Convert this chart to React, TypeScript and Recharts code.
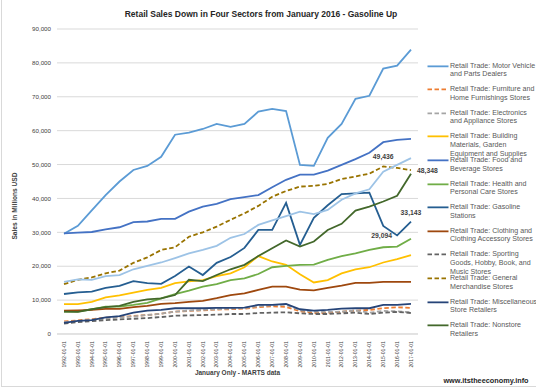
import React from 'react';
import { LineChart, Line, XAxis, YAxis, CartesianGrid, Legend } from 'recharts';

const years = [
  '1992-01-01', '1993-01-01', '1994-01-01', '1995-01-01', '1996-01-01', '1997-01-01', '1998-01-01',
  '1999-01-01', '2000-01-01', '2001-01-01', '2002-01-01', '2003-01-01', '2004-01-01', '2005-01-01',
  '2006-01-01', '2007-01-01', '2008-01-01', '2009-01-01', '2010-01-01', '2011-01-01', '2012-01-01',
  '2013-01-01', '2014-01-01', '2015-01-01', '2016-01-01', '2017-01-01',
];

const motorVehicle = [29600, 31900, 36500, 41000, 45000, 48400, 49600, 52300, 58800, 59400, 60500, 62000, 61100, 62000, 65600, 66400, 65800, 49900, 49600, 57900, 62000, 69400, 70300, 78300, 79200, 83900];
const furniture = [3700, 4000, 4400, 4800, 5000, 5300, 5600, 6000, 6600, 6800, 7000, 7200, 7300, 7500, 7900, 8200, 8000, 6700, 6200, 6200, 6600, 6900, 7100, 7600, 7900, 7700];
const electronics = [3500, 3800, 4200, 4600, 4900, 5200, 5600, 6000, 6600, 6900, 7100, 7300, 7500, 7700, 8200, 8500, 8600, 7000, 6600, 6500, 6600, 6900, 6300, 6800, 6700, 6400];
const building = [8800, 8800, 9500, 10800, 11400, 12200, 13000, 13600, 15000, 15500, 15900, 17100, 17900, 19700, 23000, 21400, 20400, 17600, 15200, 15900, 17900, 19100, 19700, 21100, 22100, 23300];
const foodBeverage = [29700, 29900, 30100, 30900, 31500, 33000, 33200, 34000, 34000, 36100, 37600, 38400, 39800, 40400, 41000, 43300, 45500, 47000, 47000, 48200, 49900, 51600, 53500, 56600, 57300, 57600];
const health = [6600, 6600, 7300, 8100, 8100, 8600, 9200, 10500, 11800, 12800, 14000, 14700, 15900, 16400, 17700, 19700, 20100, 20400, 20500, 21900, 23000, 23800, 24800, 25600, 25800, 28100];
const gasoline = [11800, 12300, 12500, 13600, 14200, 15600, 15000, 14800, 17100, 19900, 17400, 21000, 22700, 25400, 30700, 30700, 38700, 26300, 34300, 38000, 41300, 41500, 41700, 31900, 29094, 33143];
const clothing = [6900, 7000, 7100, 7400, 7400, 7900, 8300, 8900, 9100, 9500, 9800, 10600, 11500, 12000, 13000, 14000, 14000, 13100, 12900, 13600, 14300, 15100, 15100, 15400, 15400, 15400];
const sporting = [3100, 3500, 3800, 4100, 4300, 4500, 4700, 5000, 5400, 5500, 5600, 5700, 5900, 5900, 6200, 6300, 6400, 6100, 5900, 5900, 6100, 6300, 5900, 6300, 6500, 6200];
const generalMerch = [14700, 16000, 16700, 17900, 18700, 21000, 22600, 24800, 25600, 28700, 30000, 31700, 33700, 35600, 37800, 40500, 42200, 43500, 43700, 44300, 45700, 46500, 47300, 49436, 49000, 48348];
const misc = [3300, 3900, 4100, 4900, 5300, 6300, 6900, 7100, 7600, 7600, 7600, 7700, 7700, 7800, 8600, 8600, 8900, 7300, 6900, 7100, 7500, 7600, 7600, 8600, 8600, 8900];
const nonstore = [6600, 6500, 7300, 7900, 8300, 9500, 10200, 10500, 11500, 16000, 15600, 17400, 19100, 20400, 23000, 25300, 27600, 25800, 27300, 30700, 32500, 36400, 37600, 39100, 40800, 47300];
const foodServices = [15400, 16100, 16000, 17100, 17400, 19100, 20100, 21100, 22400, 23800, 24800, 26000, 28400, 29500, 32200, 33500, 34800, 36100, 35400, 36600, 39600, 41500, 42700, 47900, 49900, 51900];

const yTicks = [0, 10000, 20000, 30000, 40000, 50000, 60000, 70000, 80000, 90000];

const seriesNames = [
  'Retail Trade: Motor Vehicle\nand Parts Dealers',
  'Retail Trade: Furniture and\nHome Furnishings Stores',
  'Retail Trade: Electronics\nand Appliance Stores',
  'Retail Trade: Building\nMaterials, Garden\nEquipment and Supplies',
  'Retail Trade: Food and\nBeverage Stores',
  'Retail Trade: Health and\nPersonal Care Stores',
  'Retail Trade: Gasoline\nStations',
  'Retail Trade: Clothing and\nClothing Accessory Stores',
  'Retail Trade: Sporting\nGoods, Hobby, Book, and\nMusic Stores',
  'Retail Trade: General\nMerchandise Stores',
  'Retail Trade: Miscellaneous\nStore Retailers',
  'Retail Trade: Nonstore\nRetailers',
  'Retail Trade: Food Services and Drinking Places',
];
const seriesValues = [motorVehicle, furniture, electronics, building, foodBeverage, health, gasoline, clothing, sporting, generalMerch, misc, nonstore, foodServices];
const seriesColors = ['#5B9BD5', '#ED7D31', '#A5A5A5', '#FFC000', '#4472C4', '#70AD47', '#255E91', '#9E480E', '#636363', '#997300', '#264478', '#43682B', '#9DC3E6'];
const seriesDashed = [false, true, true, false, false, false, false, false, true, true, false, false, false];
const seriesInLegend = [true, true, true, true, true, true, true, true, true, true, true, true, false];

// data labels: series index -> { year index: position }
const dataLabels: Record<number, Record<number, string>> = {
  9: { 23: 'top', 25: 'right' },
  6: { 24: 'left', 25: 'top' },
};

const data = years.map((y, i) => {
  const row: Record<string, any> = { year: y };
  seriesValues.forEach((vals, s) => { row['s' + s] = vals[i]; });
  return row;
});

const FONT = '"Liberation Sans", Arial, sans-serif';
const DASH = '4.5 2.5';

const fmt = (v: number) => v.toLocaleString('en-US');

const makeLabel = (s: number) => (props: any) => {
  const { x, y, index, value } = props;
  const spec = dataLabels[s];
  if (!spec || spec[index] === undefined) return <g key={'l' + s + '-' + index} />;
  const pos = spec[index];
  let tx = x, ty = y, anchor: any = 'middle';
  if (pos === 'top') { ty = y - 7; }
  if (pos === 'left') { tx = x - 5; anchor = 'end'; ty = y + 3; }
  if (pos === 'right') { tx = x + 6; anchor = 'start'; ty = y + 2.5; }
  return (
    <text key={'l' + s + '-' + index} x={tx} y={ty} textAnchor={anchor} fontSize={6.8} fontWeight="bold" fill="#404040" fontFamily={FONT}>
      {fmt(value)}
    </text>
  );
};

const XTick = (props: any) => {
  const { x, y, payload } = props;
  return (
    <text x={x} y={y} transform={`rotate(-90, ${x}, ${y})`} textAnchor="end" dy="0.35em" fontSize={5.2} fill="#404040" fontFamily={FONT}>
      {payload.value}
    </text>
  );
};

const LegendContent = () => (
  <div style={{ position: 'relative', width: 109, height: 280, fontFamily: FONT }}>
    {seriesNames.map((name, i) => {
      if (!seriesInLegend[i]) return null;
      return (
        <div key={i} style={{ position: 'absolute', left: 0, top: i * 23.6, width: 109 }}>
          <svg width={22} height={9} style={{ position: 'absolute', left: 0, top: 0 }}>
            <line x1={0.5} y1={4.35} x2={21.5} y2={4.35} stroke={seriesColors[i]} strokeWidth={1.8}
              strokeDasharray={seriesDashed[i] ? DASH : undefined} />
          </svg>
          <div style={{ position: 'absolute', left: 23, top: 0, fontSize: 7.1, lineHeight: '8.7px', color: '#595959', whiteSpace: 'pre' }}>
            {name}
          </div>
        </div>
      );
    })}
  </div>
);

export default function App() {
  return (
    <div style={{ position: 'absolute', left: 0, top: 0, width: 536, height: 389, background: '#fff', overflow: 'hidden', fontFamily: FONT }}>
      <LineChart width={536} height={389} data={data} margin={{ top: 29, right: 118, bottom: 0, left: 0 }}>
        <CartesianGrid vertical={false} stroke="#D9D9D9" strokeWidth={1} />
        <XAxis dataKey="year" interval={0} tick={<XTick />} tickLine={false} tickSize={0} tickMargin={7}
          axisLine={{ stroke: '#D9D9D9' }} height={55} padding={{ left: 7, right: 7 }} />
        <YAxis domain={[0, 90000]} ticks={yTicks} tickFormatter={fmt} width={57} axisLine={false} tickLine={false}
          tickSize={0} tickMargin={6} tick={{ fontSize: 6.2, fill: '#404040', fontFamily: FONT }} interval={0} />
        <Legend layout="vertical" align="center" verticalAlign="middle" width={109}
          wrapperStyle={{ left: 427, top: 61.6, width: 109 }} content={<LegendContent />} />
        {seriesNames.map((name, s) => (
          <Line key={s} type="linear" dataKey={'s' + s} name={name.replace(/\n/g, ' ')} stroke={seriesColors[s]}
            strokeWidth={1.8} strokeDasharray={seriesDashed[s] ? DASH : undefined} dot={false} activeDot={false}
            isAnimationActive={false} legendType={seriesInLegend[s] ? 'line' : 'none'}
            label={dataLabels[s] ? makeLabel(s) : false} />
        ))}
      </LineChart>
      <div style={{ position: 'absolute', left: 261, top: 14, transform: 'translate(-50%,-50%)', fontSize: 8.5, fontWeight: 'bold', color: '#262626', whiteSpace: 'nowrap', lineHeight: 1 }}>
        Retail Sales Down in Four Sectors from January 2016 - Gasoline Up
      </div>
      <div style={{ position: 'absolute', left: 15, top: 206, transform: 'translate(-50%,-50%) rotate(-90deg)', fontSize: 6.6, fontWeight: 'bold', color: '#404040', whiteSpace: 'nowrap', lineHeight: 1 }}>
        Sales in Millions USD
      </div>
      <div style={{ position: 'absolute', left: 237.5, top: 373, transform: 'translate(-50%,-50%)', fontSize: 6.5, fontWeight: 'bold', color: '#404040', whiteSpace: 'nowrap', lineHeight: 1 }}>
        January Only - MARTS data
      </div>
      <div style={{ position: 'absolute', left: 486, top: 381, transform: 'translate(-50%,-50%)', fontSize: 7.3, fontWeight: 'bold', color: '#262626', whiteSpace: 'nowrap', lineHeight: 1 }}>
        www.itstheeconomy.info
      </div>
      <div style={{ position: 'absolute', left: 1, top: 0, width: 1, height: 387, background: '#D9D9D9' }} />
      <div style={{ position: 'absolute', left: 1, top: 386, width: 535, height: 1, background: '#D9D9D9' }} />
    </div>
  );
}
